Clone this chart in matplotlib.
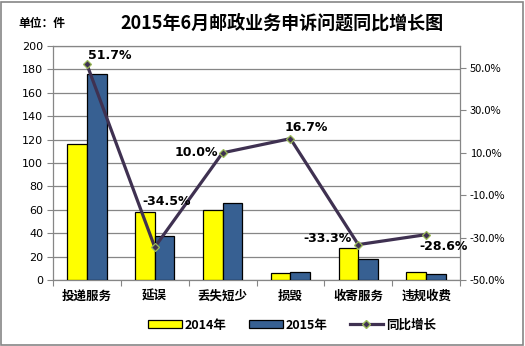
import matplotlib
matplotlib.use("Agg")
import matplotlib.pyplot as plt
import numpy as np
from matplotlib.patches import Rectangle
from matplotlib.lines import Line2D

plt.rcParams['font.family'] = ['Noto Sans CJK SC', 'DejaVu Sans']

categories = ['投递服务', '延误', '丢失短少', '损毁', '收寄服务', '违规收费']
v2014 = [116, 58, 60, 6, 27, 7]
v2015 = [176, 38, 66, 7, 18, 5]
growth = [51.7, -34.5, 10.0, 16.7, -33.3, -28.6]
left_ticks = list(range(0, 201, 20))
right_ticks = [-50, -30, -10, 10, 30, 50]

W, H = 525, 346
fig = plt.figure(figsize=(W/100, H/100), dpi=100)
fig.patch.set_facecolor('white')
# outer frame
fig.add_artist(Rectangle((1/W, 1/H), (W-3)/W, (H-3)/H, transform=fig.transFigure,
                         fill=False, edgecolor='#868686', linewidth=1.2))

l, r, t, b = 53, 460, 46, 280
ax = fig.add_axes([l/W, 1-b/H, (r-l)/W, (b-t)/H])
x = np.arange(len(categories))
bw = 0.29
ax.bar(x - bw/2, v2014, bw, color='#FFFF00', edgecolor='black', linewidth=0.9, zorder=3)
ax.bar(x + bw/2, v2015, bw, color='#376092', edgecolor='black', linewidth=0.9, zorder=3)
ax.set_xlim(-0.5, len(categories)-0.5)
ax.set_ylim(0, 200)
ax.set_yticks(left_ticks)
ax.yaxis.grid(True, color='#868686', linewidth=0.9, zorder=0)
ax.set_axisbelow(True)
for s in ax.spines.values():
    s.set_color('#868686')
    s.set_linewidth(0.9)
ax.tick_params(axis='y', direction='out', length=4, color='#868686', labelsize=8, pad=3)
ax.set_xticks(np.arange(-0.5, len(categories), 1.0))
ax.set_xticklabels([])
ax.tick_params(axis='x', direction='out', length=4, color='#868686')
for i, c in enumerate(categories):
    ax.text(i, -14, c, ha='center', va='center', fontsize=9, fontweight='bold')
for lab in ax.get_yticklabels():
    lab.set_family(['DejaVu Sans'])

ax2 = ax.twinx()
ax2.set_ylim(-50, 60.4)
ax2.set_yticks(right_ticks)
ax2.set_yticklabels([f'{v:.1f}%' for v in right_ticks])
ax2.tick_params(axis='y', direction='out', length=4, color='#868686', labelsize=8, pad=3)
for s in ax2.spines.values():
    s.set_visible(False)
ax2.plot(x, growth, color='#3F3151', linewidth=2.3, marker='D', markersize=4.5,
         markerfacecolor='#3F3151', markeredgecolor='#9BBB59', markeredgewidth=0.9, zorder=5)
offsets = [(1, 2, 'left', 'bottom'), (-9, 28, 'left', 'bottom'), (-3, 0, 'right', 'center'),
           (-4, 3, 'left', 'bottom'), (-5, 0, 'right', 'bottom'), (-5, -4, 'left', 'top')]
for xi, g, (dx, dy, ha, va) in zip(x, growth, offsets):
    ax2.annotate(f'{g:.1f}%', (xi, g), xytext=(dx, dy), textcoords='offset points',
                 ha=ha, va=va, fontsize=9, fontweight='bold', family=['DejaVu Sans'], zorder=6)

fig.text(65/W, 1-23/H, '单位：件', ha='right', va='center', fontsize=8.5, fontweight='bold')
fig.text(282/W, 1-23/H, '2015年6月邮政业务申诉问题同比增长图', ha='center', va='center',
         fontsize=13, fontweight='bold')

handles = [Rectangle((0, 0), 1, 1, facecolor='#FFFF00', edgecolor='black', linewidth=0.9),
           Rectangle((0, 0), 1, 1, facecolor='#376092', edgecolor='black', linewidth=0.9),
           Line2D([], [], color='#3F3151', linewidth=2.3, marker='D', markersize=4.5,
                  markerfacecolor='#3F3151', markeredgecolor='#9BBB59')]
leg = fig.legend(handles, ['2014年', '2015年', '同比增长'], loc='center', ncol=3,
                 bbox_to_anchor=(292/W, 1-325/H), frameon=False, fontsize=9,
                 handlelength=2.7, handleheight=0.6, handletextpad=0.2, columnspacing=1.8)
for txt in leg.get_texts():
    txt.set_fontweight('bold')

fig.savefig('out.png', dpi=100)
